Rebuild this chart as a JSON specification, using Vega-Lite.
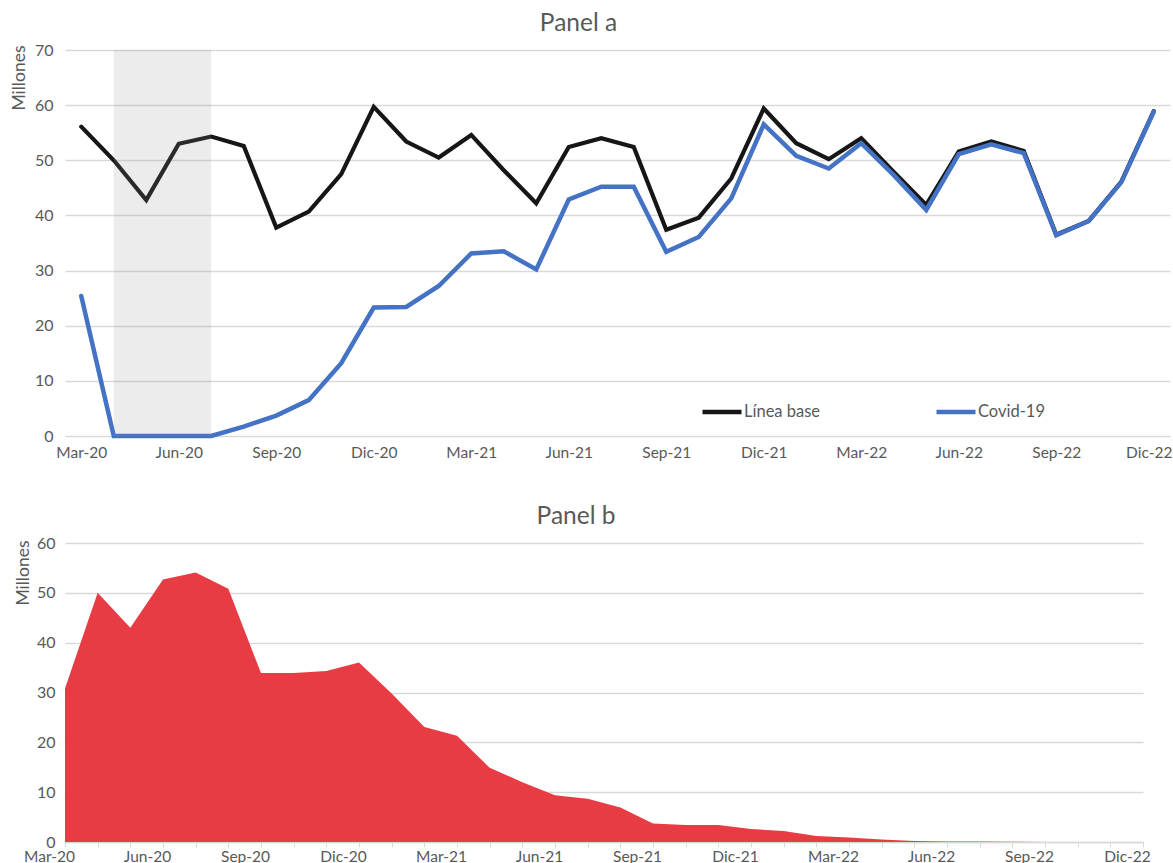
{
  "$schema": "https://vega.github.io/schema/vega-lite/v6.json",
  "padding": {"left": 10, "top": 10, "right": 0, "bottom": 0},
  "background": "white",
  "spacing": 42,
  "config": {
    "font": "Lato",
    "view": {"stroke": null},
    "axis": {"labelFont": "Lato", "labelFontSize": 16, "labelColor": "#595959", "titleFont": "Lato", "titleFontSize": 17.5, "titleColor": "#595959", "titleFontWeight": "normal"},
    "axisX": {"labelFontSize": 15.5},
    "title": {"font": "Lato", "fontSize": 24.5, "fontWeight": "normal", "color": "#595959", "anchor": "middle"}
  },
  "datasets": {
    "meses": [
      {"mes": "Mar-20", "Línea base": 56.1, "Covid-19": 25.4, "Brecha": 30.8},
      {"mes": "Abr-20", "Línea base": 50.0, "Covid-19": 0, "Brecha": 50.0},
      {"mes": "May-20", "Línea base": 42.8, "Covid-19": 0, "Brecha": 43.0},
      {"mes": "Jun-20", "Línea base": 53.0, "Covid-19": 0, "Brecha": 52.7},
      {"mes": "Jul-20", "Línea base": 54.3, "Covid-19": 0, "Brecha": 54.1},
      {"mes": "Ago-20", "Línea base": 52.6, "Covid-19": 1.7, "Brecha": 50.8},
      {"mes": "Sep-20", "Línea base": 37.8, "Covid-19": 3.7, "Brecha": 33.9},
      {"mes": "Oct-20", "Línea base": 40.7, "Covid-19": 6.5, "Brecha": 33.9},
      {"mes": "Nov-20", "Línea base": 47.5, "Covid-19": 13.2, "Brecha": 34.3},
      {"mes": "Dic-20", "Línea base": 59.7, "Covid-19": 23.3, "Brecha": 36.0},
      {"mes": "Ene-21", "Línea base": 53.4, "Covid-19": 23.4, "Brecha": 29.8},
      {"mes": "Feb-21", "Línea base": 50.5, "Covid-19": 27.2, "Brecha": 23.1},
      {"mes": "Mar-21", "Línea base": 54.6, "Covid-19": 33.1, "Brecha": 21.3},
      {"mes": "Abr-21", "Línea base": 48.2, "Covid-19": 33.5, "Brecha": 14.9},
      {"mes": "May-21", "Línea base": 42.2, "Covid-19": 30.2, "Brecha": 12.0},
      {"mes": "Jun-21", "Línea base": 52.4, "Covid-19": 42.9, "Brecha": 9.4},
      {"mes": "Jul-21", "Línea base": 54.0, "Covid-19": 45.2, "Brecha": 8.7},
      {"mes": "Ago-21", "Línea base": 52.4, "Covid-19": 45.2, "Brecha": 6.9},
      {"mes": "Sep-21", "Línea base": 37.4, "Covid-19": 33.4, "Brecha": 3.7},
      {"mes": "Oct-21", "Línea base": 39.6, "Covid-19": 36.1, "Brecha": 3.4},
      {"mes": "Nov-21", "Línea base": 46.7, "Covid-19": 43.1, "Brecha": 3.4},
      {"mes": "Dic-21", "Línea base": 59.4, "Covid-19": 56.5, "Brecha": 2.6},
      {"mes": "Ene-22", "Línea base": 53.1, "Covid-19": 50.8, "Brecha": 2.2},
      {"mes": "Feb-22", "Línea base": 50.2, "Covid-19": 48.5, "Brecha": 1.2},
      {"mes": "Mar-22", "Línea base": 54.0, "Covid-19": 53.1, "Brecha": 0.9},
      {"mes": "Abr-22", "Línea base": 47.9, "Covid-19": 47.3, "Brecha": 0.5},
      {"mes": "May-22", "Línea base": 41.9, "Covid-19": 41.0, "Brecha": 0.2},
      {"mes": "Jun-22", "Línea base": 51.6, "Covid-19": 51.1, "Brecha": 0.1},
      {"mes": "Jul-22", "Línea base": 53.4, "Covid-19": 52.9, "Brecha": 0.1},
      {"mes": "Ago-22", "Línea base": 51.7, "Covid-19": 51.3, "Brecha": 0.05},
      {"mes": "Sep-22", "Línea base": 36.5, "Covid-19": 36.4, "Brecha": 0},
      {"mes": "Oct-22", "Línea base": 39.0, "Covid-19": 39.0, "Brecha": 0},
      {"mes": "Nov-22", "Línea base": 46.1, "Covid-19": 46.0, "Brecha": 0},
      {"mes": "Dic-22", "Línea base": 58.9, "Covid-19": 58.8, "Brecha": 0}
    ],
    "confinamiento": [{"inicio": "Abr-20", "fin": "Jul-20"}]
  },
  "vconcat": [
    {
      "width": 1105,
      "height": 386,
      "title": {"text": "Panel a", "dx": -39, "offset": 6},
      "layer": [
        {
          "data": {"name": "meses"},
          "mark": {"type": "line", "strokeWidth": 4.2, "strokeCap": "round"},
          "encoding": {
            "x": {"field": "mes", "type": "ordinal", "sort": null,
                  "scale": {"type": "point", "padding": 0.5},
                  "axis": {"title": null, "labelAngle": 0, "ticks": false, "domain": false, "grid": false, "labelPadding": 9, "labelBound": false,
                           "labelOffset": {"condition": {"test": "datum.value == 'Dic-22'", "value": -5}, "value": 0},
                           "labelExpr": "indexof(['Mar','Jun','Sep','Dic'], slice(datum.value, 0, 3)) >= 0 ? datum.value : ''"}},
            "y": {"field": "Línea base", "type": "quantitative",
                  "scale": {"domain": [0, 70]},
                  "axis": {"title": "Millones", "titleAnchor": "end", "titleY": -5, "values": [0, 10, 20, 30, 40, 50, 60, 70], "domain": false, "ticks": false, "labelPadding": 12, "gridColor": "#d9d9d9", "gridWidth": 1.3, "titlePadding": 6}},
            "color": {"datum": "Línea base", "type": "nominal",
                      "scale": {"domain": ["Línea base", "Covid-19"], "range": ["#161616", "#4472C4"]},
                      "legend": {"title": null, "orient": "none", "legendX": 635, "legendY": 340, "direction": "horizontal",
                                 "symbolType": "stroke", "symbolSize": 1521, "symbolStrokeWidth": 4.5, "labelOffset": 0,
                                 "labelFont": "Lato", "labelFontSize": 16.5, "labelColor": "#595959", "columnPadding": 106}}
          }
        },
        {
          "data": {"name": "meses"},
          "mark": {"type": "line", "strokeWidth": 4.5, "strokeCap": "round"},
          "encoding": {
            "x": {"field": "mes", "type": "ordinal", "sort": null},
            "y": {"field": "Covid-19", "type": "quantitative"},
            "color": {"datum": "Covid-19", "type": "nominal"}
          }
        },
        {
          "data": {"name": "confinamiento"},
          "mark": {"type": "rect", "color": "#8c8c8c", "opacity": 0.17},
          "encoding": {
            "x": {"field": "inicio", "type": "ordinal", "sort": null},
            "x2": {"field": "fin"},
            "y": {"datum": 70, "type": "quantitative"},
            "y2": {"datum": 0}
          }
        }
      ]
    },
    {
      "width": 1078,
      "height": 299,
      "title": {"text": "Panel b", "dx": -28, "offset": 6},
      "data": {"name": "meses"},
      "mark": {"type": "area", "color": "#E7323A", "opacity": 0.95},
      "encoding": {
        "x": {"field": "mes", "type": "ordinal", "sort": null,
              "scale": {"type": "point", "padding": 0},
              "axis": {"title": null, "labelAngle": 0, "ticks": true, "tickSize": 5, "tickColor": "#d9d9d9", "domain": true, "domainColor": "#d9d9d9", "domainWidth": 1.3, "grid": false, "labelPadding": 2, "labelOffset": -16,
                       "labelExpr": "indexof(['Mar','Jun','Sep','Dic'], slice(datum.value, 0, 3)) >= 0 ? datum.value : ''"}},
        "y": {"field": "Brecha", "type": "quantitative",
              "scale": {"domain": [0, 60]},
              "axis": {"title": "Millones", "titleAnchor": "end", "titleY": -3, "values": [0, 10, 20, 30, 40, 50, 60], "domain": false, "ticks": false, "labelPadding": 10, "gridColor": "#d9d9d9", "gridWidth": 1.3, "titlePadding": 4}}
      }
    }
  ]
}
